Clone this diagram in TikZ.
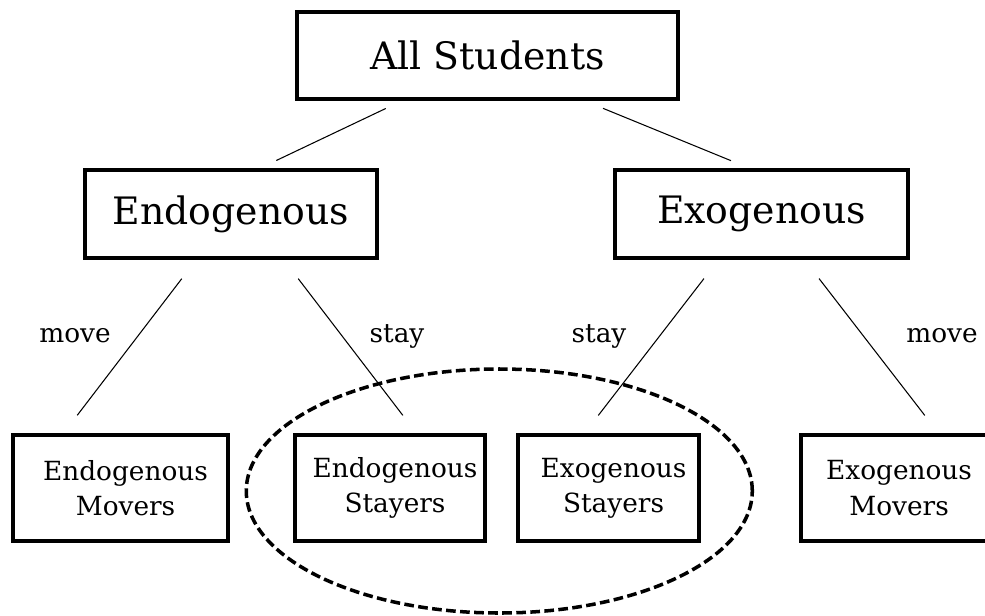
\documentclass[tikz,border=0pt]{standalone}
\usepackage{fontspec}
\setmainfont{DejaVu Serif}
\usepackage{tikz}
\usetikzlibrary{positioning}
\usetikzlibrary{calc}

\begin{document}
\begin{tikzpicture}[
    group/.style={draw, line width=2pt, inner sep=0pt, font=\fontsize{21.5}{25}\selectfont},
    leaf/.style={draw, line width=2pt, inner sep=0pt, align=center, minimum height=2.12cm, font=\fontsize{15}{20}\selectfont},
    branch/.style={line width=0.6pt},
    choice/.style={font=\fontsize{15}{18}\selectfont}
  ]
    \clip (0,0) rectangle (19.7,-12.3);

    \node [group, minimum width=7.62cm, minimum height=1.74cm] (all) at (9.75,-1.11) {All Students};
    \node [group, minimum width=5.84cm, minimum height=1.76cm] (endo) at (4.62,-4.28) {Endogenous};
    \node [group, minimum width=5.86cm, minimum height=1.76cm] (exo) at (15.23,-4.28) {Exogenous};

    \node [leaf, minimum width=4.3cm] (endm) at (2.41,-9.76) {\hspace{0.2cm}Endogenous\\\hspace{0.2cm}Movers};
    \node [leaf, minimum width=3.8cm, right=1.27cm of endm] (ends) {\hspace{0.2cm}Endogenous\\\hspace{0.2cm}Stayers};
    \node [leaf, minimum width=3.62cm, right=0.59cm of ends] (exs) {\hspace{0.2cm}Exogenous\\\hspace{0.2cm}Stayers};
    \node [leaf, minimum width=3.92cm, right=1.97cm of exs] (exm) {Exogenous\\Movers};

    % first split
    \draw [branch, shorten <=0.36cm, shorten >=0.36cm] ([xshift=-1.71cm]all.south) -- ([xshift=0.58cm]endo.north);
    \draw [branch, shorten <=0.40cm, shorten >=0.40cm] ([xshift=1.94cm]all.south) -- ([xshift=-0.24cm]exo.north);

    % second split
    \draw [branch, shorten <=0.475cm, shorten >=0.45cm] ([xshift=-0.695cm]endo.south) -- ([xshift=-1.14cm]endm.north);
    \draw [branch, shorten <=0.475cm, shorten >=0.45cm] ([xshift=1.055cm]endo.south) -- ([xshift=0.53cm]ends.north);
    \draw [branch, shorten <=0.475cm, shorten >=0.45cm] ([xshift=-0.86cm]exo.south) -- ([xshift=-0.48cm]exs.north);
    \draw [branch, shorten <=0.475cm, shorten >=0.45cm] ([xshift=0.86cm]exo.south) -- ([xshift=0.79cm]exm.north);

    \node [choice] (m1) at (1.5,-6.72) {move};
    \node [choice] (s1) at (7.94,-6.72) {stay};
    \node [choice] (s2) at (11.98,-6.72) {stay};
    \node [choice] (m2) at (18.84,-6.72) {move};

    \draw [line width=2pt, dash pattern=on 5.5pt off 2.5pt] ($(ends)!0.5!(exs)+(0,-0.06)$) ellipse [x radius=5.06cm, y radius=2.44cm];
\end{tikzpicture}
\end{document}
